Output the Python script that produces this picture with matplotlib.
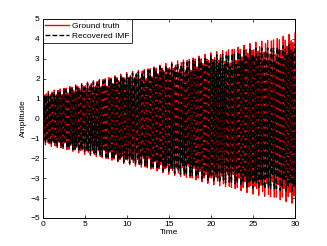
import numpy as np
import matplotlib
matplotlib.use("Agg")
import matplotlib.pyplot as plt

# Envelope values (amplitude vs time)
env_t = [0, 5, 10, 15, 20, 25, 30]
truth_amp = [1.30, 1.80, 2.30, 2.80, 3.30, 3.80, 4.30]
imf_amp = [1.20, 1.72, 2.22, 2.70, 3.15, 3.50, 3.75]
carrier_freq = 4.3   # cycles per unit time (approx. from stripe spacing)
sample_step = 0.05
x_ticks = [0, 5, 10, 15, 20, 25, 30]
y_ticks = [-5, -4, -3, -2, -1, 0, 1, 2, 3, 4, 5]

t = np.arange(0, 30 + sample_step / 2, sample_step)
truth = np.interp(t, env_t, truth_amp) * np.cos(2 * np.pi * carrier_freq * t)
imf = np.interp(t, env_t, imf_amp) * np.cos(2 * np.pi * carrier_freq * t)

plt.rcParams['font.family'] = ['Liberation Sans', 'DejaVu Sans']
fig = plt.figure(figsize=(3.27, 2.46), dpi=100)
ax = fig.add_axes([0.13, 0.114, 0.772, 0.809])
ax.plot(t, truth, color='red', lw=0.9, label='Ground truth')
ax.plot(t, imf, color='black', lw=1.1, ls=(0, (3.5, 1.5)), label='Recovered IMF')
ax.set_xlim(0, 30)
ax.set_ylim(-5, 5)
ax.set_xticks(x_ticks)
ax.set_yticks(y_ticks)
ax.tick_params(direction='in', length=2.5, width=0.5, labelsize=6,
               top=True, right=True, pad=2)
for s in ax.spines.values():
    s.set_linewidth(0.7)
ax.set_xlabel('Time', fontsize=6, labelpad=1)
ax.set_ylabel('Amplitude', fontsize=6, labelpad=2)
leg = ax.legend(loc='upper left', fontsize=6, frameon=True, fancybox=False,
                edgecolor='black', borderaxespad=0, handlelength=2.8,
                borderpad=0.35, labelspacing=0.25, handletextpad=0.4)
leg.get_frame().set_linewidth(0.7)
for l in leg.get_lines():
    l.set_linewidth(1.0)
fig.savefig('out.png', dpi=100)
